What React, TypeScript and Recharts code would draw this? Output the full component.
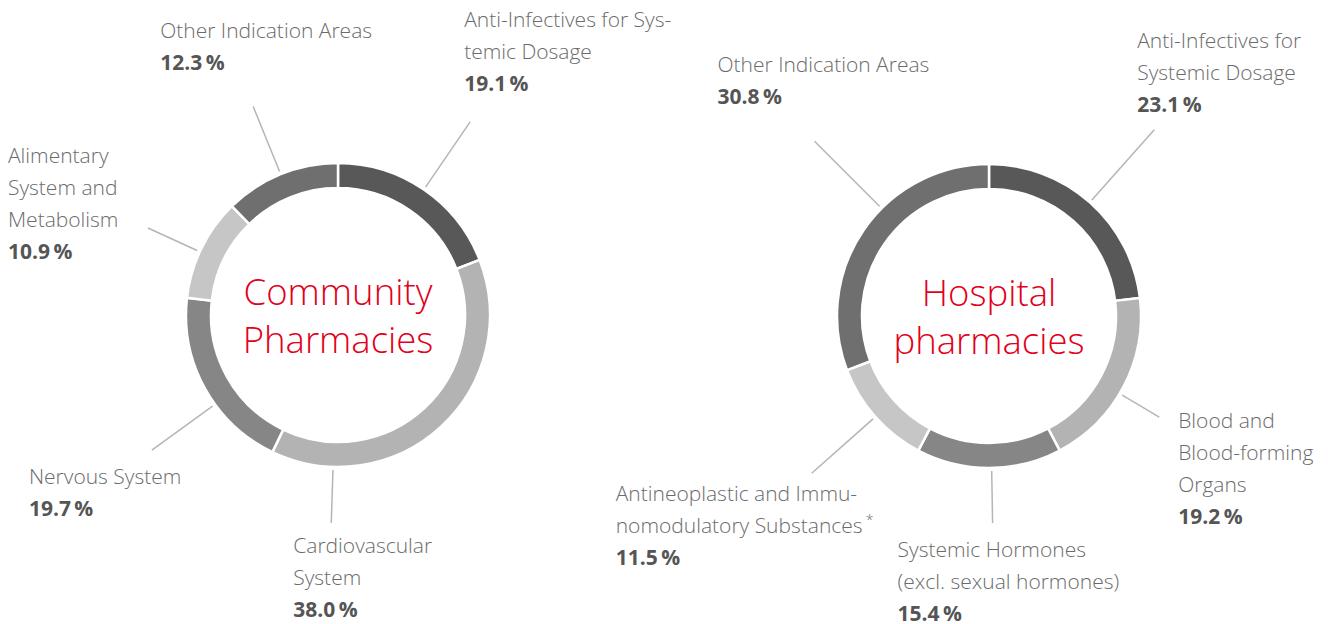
import { Pie, PieChart } from "recharts";

// Community pharmacies
const communityCategories = [
  "Anti-Infectives for Systemic Dosage",
  "Cardiovascular System",
  "Nervous System",
  "Alimentary System and Metabolism",
  "Other Indication Areas",
];
const communityValues = [19.1, 38.0, 19.7, 10.9, 12.3];
const communityLabels = [
  ["Anti-Infectives for Sys-", "temic Dosage"],
  ["Cardiovascular", "System"],
  ["Nervous System"],
  ["Alimentary", "System and", "Metabolism"],
  ["Other Indication Areas"],
];

// Hospital pharmacies
const hospitalCategories = [
  "Anti-Infectives for Systemic Dosage",
  "Blood and Blood-forming Organs",
  "Systemic Hormones (excl. sexual hormones)",
  "Antineoplastic and Immunomodulatory Substances",
  "Other Indication Areas",
];
const hospitalValues = [23.1, 19.2, 15.4, 11.5, 30.8];
const hospitalLabels = [
  ["Anti-Infectives for", "Systemic Dosage"],
  ["Blood and", "Blood-forming", "Organs"],
  ["Systemic Hormones", "(excl. sexual hormones)"],
  ["Antineoplastic and Immu-", "nomodulatory Substances*"],
  ["Other Indication Areas"],
];

const communityColors = ["#585858", "#b3b3b3", "#868686", "#c6c6c6", "#6f6f6f"];
const hospitalColors = ["#585858", "#b3b3b3", "#868686", "#c6c6c6", "#6f6f6f"];

// leader line: angle shift from slice middle (deg), line end radius, text offset from line end
const communityLayout = [
  { shift: 0, reach: 234, dx: -6, dy: -95 },
  { shift: 44.7, reach: 208, dx: -38, dy: 30 },
  { shift: -7, reach: 230, dx: -123, dy: 34 },
  { shift: -1.5, reach: 209, dx: -140, dy: -65 },
  { shift: 0, reach: 225, dx: -93, dy: -69 },
];
const hospitalLayout = [
  { shift: 0, reach: 249, dx: -17, dy: -82 },
  { shift: 3, reach: 198, dx: 19, dy: 11 },
  { shift: -1, reach: 207, dx: -95, dy: 34 },
  { shift: 0, reach: 237, dx: -196, dy: 28 },
  { shift: 10.5, reach: 247, dx: -97, dy: -69 },
];

const FONT = "'Open Sans', 'Liberation Sans', Arial, sans-serif";
const LINE_H = 32;

function polar(cx: number, cy: number, r: number, theta: number) {
  const rad = (theta * Math.PI) / 180;
  return { x: cx + r * Math.sin(rad), y: cy - r * Math.cos(rad) };
}

function makeLabel(lines: string[][], layout: typeof communityLayout, title: string[]) {
  return (props: any) => {
    const { cx, cy, midAngle, outerRadius, index, value } = props;
    const conf = layout[index];
    const theta = 90 - midAngle + conf.shift;
    const p1 = polar(cx, cy, outerRadius + 3, theta);
    const p2 = polar(cx, cy, conf.reach, theta);
    const x = p2.x + conf.dx;
    const y0 = p2.y + conf.dy;
    const rows = lines[index];
    return (
      <g key={`lbl-${index}`}>
        {index === 0 &&
          title.map((t, i) => (
            <text
              key={`t${i}`}
              x={cx}
              y={cy - 10 + i * 48}
              textAnchor="middle"
              fontFamily={FONT}
              fontSize={36.5}
              fontWeight={300}
              fill="#e2001a"
            >
              {t}
            </text>
          ))}
        <line x1={p1.x} y1={p1.y} x2={p2.x} y2={p2.y} stroke="#b5b5b5" strokeWidth={1.5} />
        {rows.map((row, i) => {
          const star = row.endsWith("*");
          return (
            <text
              key={i}
              x={x}
              y={y0 + i * LINE_H}
              fontFamily={FONT}
              fontSize={21}
              fontWeight={300}
              fill="#6b6b6b"
            >
              {star ? row.slice(0, -1) : row}
              {star && (
                <tspan fontSize={14} dx={3} dy={-8}>
                  *
                </tspan>
              )}
            </text>
          );
        })}
        <text
          x={x}
          y={y0 + rows.length * LINE_H}
          fontFamily={FONT}
          fontSize={21}
          fontWeight={700}
          fill="#555555"
        >
          {`${value.toFixed(1)}\u2009%`}
        </text>
      </g>
    );
  };
}

export default function App() {
  const communityData = communityCategories.map((name, i) => ({
    name,
    value: communityValues[i],
    fill: communityColors[i],
  }));
  const hospitalData = hospitalCategories.map((name, i) => ({
    name,
    value: hospitalValues[i],
    fill: hospitalColors[i],
  }));

  return (
    <div style={{ position: "absolute", left: 0, top: 0, width: 1328, height: 624, background: "#fff" }}>
      <PieChart width={1328} height={624} margin={{ top: 0, right: 0, bottom: 0, left: 0 }}>
        <Pie
          data={communityData}
          dataKey="value"
          nameKey="name"
          cx={338}
          cy={315}
          innerRadius={127}
          outerRadius={152}
          startAngle={90}
          endAngle={-270}
          stroke="#ffffff"
          strokeWidth={2.5}
          labelLine={false}
          label={makeLabel(communityLabels, communityLayout, ["Community", "Pharmacies"])}
          isAnimationActive={false}
        />
        <Pie
          data={hospitalData}
          dataKey="value"
          nameKey="name"
          cx={989}
          cy={316}
          innerRadius={127}
          outerRadius={152}
          startAngle={90}
          endAngle={-270}
          stroke="#ffffff"
          strokeWidth={2.5}
          labelLine={false}
          label={makeLabel(hospitalLabels, hospitalLayout, ["Hospital", "pharmacies"])}
          isAnimationActive={false}
        />
      </PieChart>
    </div>
  );
}
